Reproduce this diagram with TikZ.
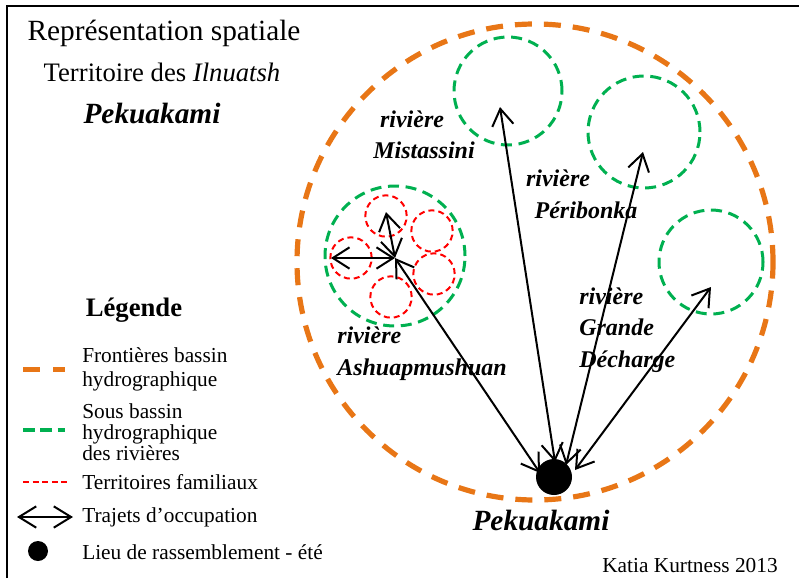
\documentclass[tikz,border=0pt]{standalone}
\usepackage{fontspec}
\setmainfont{Liberation Serif}
\usetikzlibrary{arrows.meta}
\definecolor{basinorange}{RGB}{232,118,22}
\definecolor{subgreen}{RGB}{0,176,80}
\definecolor{famred}{RGB}{255,0,0}
\tikzset{
  basincirc/.style={circle,draw=basinorange,line width=3.9pt,dash pattern=on 12.75pt off 9pt,inner sep=0pt},
  subcirc/.style={circle,draw=subgreen,line width=2.25pt,dash pattern=on 8.25pt off 5pt,inner sep=0pt},
  famcirc/.style={circle,draw=famred,line width=1.5pt,dash pattern=on 4.5pt off 3pt,inner sep=0pt,minimum size=31pt},
  trajet/.style={line width=1.5pt,{Straight Barb[length=12.5pt,width=16pt]}-{Straight Barb[length=12.5pt,width=16pt]}},
  rivlabel/.style={font=\fontsize{18}{23.6}\selectfont\bfseries\itshape,inner sep=0pt,align=left},
  legtext/.style={font=\fontsize{16}{18}\selectfont,inner sep=0pt,anchor=west,align=left},
}
\begin{document}
\begin{tikzpicture}[x=0.75pt,y=-0.75pt]
\useasboundingbox (0,0) rectangle (799,578);
% frame
\draw[line width=1.5pt] (7,578) -- (7,6) -- (799,6);

% titles
\node[font=\fontsize{22}{26}\selectfont,inner sep=0pt] (title) at (164,33) {Représentation spatiale};
\node[font=\fontsize{20}{24}\selectfont,inner sep=0pt] (subtitle) at (162,72) {Territoire des \textit{Ilnuatsh}};
\node[font=\fontsize{22}{26}\selectfont\bfseries\itshape,inner sep=0pt] (pekutitle) at (152,113) {Pekuakami};

% basin circles
\node[basincirc,minimum size=357pt] (basin) at (535,262) {};
\node[subcirc,minimum size=81pt] (mist) at (508,91) {};
\node[subcirc,minimum size=84pt] (peri) at (644,132) {};
\node[subcirc,minimum size=78pt] (grande) at (711,262) {};
\node[subcirc,minimum size=105pt] (ashu) at (395,256) {};
\node[famcirc] (f1) at (386,216) {};
\node[famcirc] (f2) at (432,231) {};
\node[famcirc] (f3) at (351,258) {};
\node[famcirc] (f4) at (434,274) {};
\node[famcirc] (f5) at (391,297) {};

% river labels
\node[rivlabel] (mistA) at (412,119) {rivière};
\node[rivlabel] (mistB) at (424,150) {Mistassini};
\node[rivlabel] (periA) at (558,178) {rivière};
\node[rivlabel] (periB) at (586,210) {Péribonka};
\node[rivlabel,anchor=west] (grandeL) at (579,330) {rivière\\Grande\\Décharge};
\node[rivlabel,anchor=west,font=\fontsize{18}{24}\selectfont\bfseries\itshape] (ashuL) at (337,354) {rivière\\Ashuapmushuan};

% gathering place
\node[circle,fill=black,inner sep=0pt,minimum size=27pt] (dot) at (554,477) {};
\node[font=\fontsize{22}{26}\selectfont\bfseries\itshape,inner sep=0pt] (pekubottom) at (541,520) {Pekuakami};

% arrow end points
\coordinate (hub) at (395,258);
\coordinate (leftTip) at (331,258);
\coordinate (upTip) at (386,212);
\coordinate (mistTip) at (500,107);
\coordinate (periTip) at (643,152);
\coordinate (grandeTip) at (711,287);
\coordinate (dotA) at (540,473);
\coordinate (dotB) at (555,462);
\coordinate (dotC) at (566,465);
\coordinate (dotD) at (575,470);

\draw[trajet] (leftTip) -- (hub);
\draw[trajet] (upTip) -- (hub);
\draw[trajet] (hub) -- (dotA);
\draw[trajet] (mistTip) -- (dotB);
\draw[trajet] (periTip) -- (dotC);
\draw[trajet] (grandeTip) -- (dotD);

% legend
\node[font=\fontsize{20}{24}\selectfont\bfseries,inner sep=0pt] (legtitle) at (134,310) {Légende};
\coordinate (lo1) at (23,369); \coordinate (lo2) at (65,369);
\draw[draw=basinorange,line width=3.75pt,dash pattern=on 12.75pt off 9.75pt] (lo1) -- (lo2);
\node[legtext] (legorange) at (82,369) {Frontières bassin\\hydrographique};
\coordinate (lg1) at (23,430); \coordinate (lg2) at (65,430);
\draw[draw=subgreen,line width=2.4pt,dash pattern=on 9pt off 4pt] (lg1) -- (lg2);
\node[legtext,font=\fontsize{16}{15.6}\selectfont] (leggreen) at (82,432) {Sous bassin\\hydrographique\\des rivières};
\coordinate (lr1) at (23,482); \coordinate (lr2) at (67,482);
\draw[draw=famred,line width=1.5pt,dash pattern=on 4.5pt off 2.7pt] (lr1) -- (lr2);
\node[legtext] (legred) at (82,482) {Territoires familiaux};
\coordinate (la1) at (17,517); \coordinate (la2) at (73,517);
\draw[line width=1.5pt,{Straight Barb[length=13pt,width=16pt]}-{Straight Barb[length=13pt,width=16pt]}] (la1) -- (la2);
\node[legtext] (legarrow) at (82,517) {Trajets d’occupation};
\node[circle,fill=black,inner sep=0pt,minimum size=15pt] (legdot) at (38,551) {};
\node[legtext] (legdottext) at (82,552) {Lieu de rassemblement - été};

\node[font=\fontsize{16}{18}\selectfont,inner sep=0pt] (author) at (690,566) {Katia Kurtness 2013};
\end{tikzpicture}
\end{document}
